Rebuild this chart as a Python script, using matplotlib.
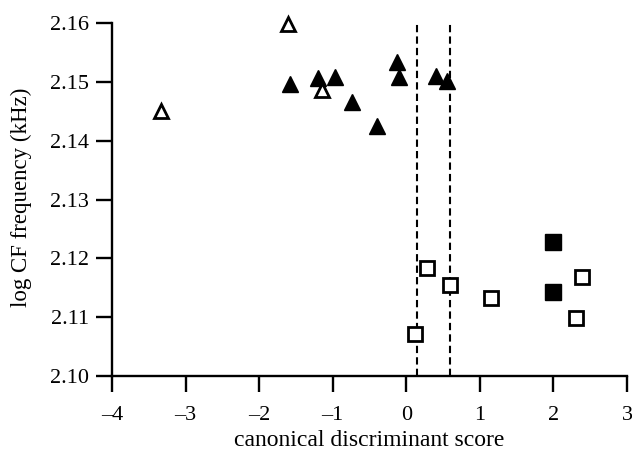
import numpy as np
import matplotlib.pyplot as plt

plt.rcParams["font.family"] = ["Liberation Serif", "DejaVu Serif"]

## data
tri_open_x = [-3.33, -1.61, -1.14]
tri_open_y = [2.1451, 2.1598, 2.1486]
tri_fill_x = [-1.58, -1.20, -0.97, -0.74, -0.40, -0.13, -0.10, 0.40, 0.56]
tri_fill_y = [2.1496, 2.1507, 2.1509, 2.1465, 2.1425, 2.1533, 2.1509, 2.1510, 2.1501]
sq_open_x = [0.12, 0.28, 0.60, 1.15, 2.31, 2.39]
sq_open_y = [2.1071, 2.1184, 2.1155, 2.1132, 2.1098, 2.1168]
sq_fill_x = [2.00, 2.00]
sq_fill_y = [2.1227, 2.1142]
cutoffs = [0.14, 0.59]

xticks = np.arange(-4, 4, 1)
yticks = np.arange(2.10, 2.1601, 0.01)

ticksize = 16

fig = plt.figure(figsize=(6.32, 4.53), dpi=100)
ax = fig.add_axes([0.1772, 0.170, 0.8149, 0.7792])

for c in cutoffs:
    ax.axvline(c, color="k", ls=(0, (3.5, 2.0)), lw=1.5, zorder=1)

ax.plot(tri_fill_x, tri_fill_y, "^", color="k", ms=12, ls="none", zorder=3, clip_on=False)
ax.plot(tri_open_x, tri_open_y, "^", mfc="white", mec="k", mew=2.0, ms=10.5, ls="none", zorder=3, clip_on=False)
ax.plot(sq_fill_x, sq_fill_y, "s", color="k", ms=12, ls="none", zorder=3)
ax.plot(sq_open_x, sq_open_y, "s", mfc="white", mec="k", mew=2.0, ms=10, ls="none", zorder=3)

ax.set_xlim(-4, 3)
ax.set_ylim(2.10, 2.16)
ax.set_xticks(xticks)
ax.set_xticklabels(["\u2013" + str(abs(v)) if v < 0 else str(v) for v in xticks])
ax.set_yticks(yticks)
ax.set_yticklabels(["{:.2f}".format(v) for v in yticks])

for s in ["top", "right"]:
    ax.spines[s].set_visible(False)
for s in ["left", "bottom"]:
    ax.spines[s].set_linewidth(1.7)
ax.tick_params(direction="out", length=11.5, width=1.7, labelsize=ticksize)
ax.tick_params(axis="x", pad=10)
ax.tick_params(axis="y", pad=5)

ax.set_xlabel("canonical discriminant score", fontsize=17)
ax.set_ylabel("log CF frequency (kHz)", fontsize=16.5)
ax.xaxis.set_label_coords(0.5, -0.153)
ax.yaxis.set_label_coords(-0.1553, 0.506)

plt.savefig("out.png", dpi=100)
